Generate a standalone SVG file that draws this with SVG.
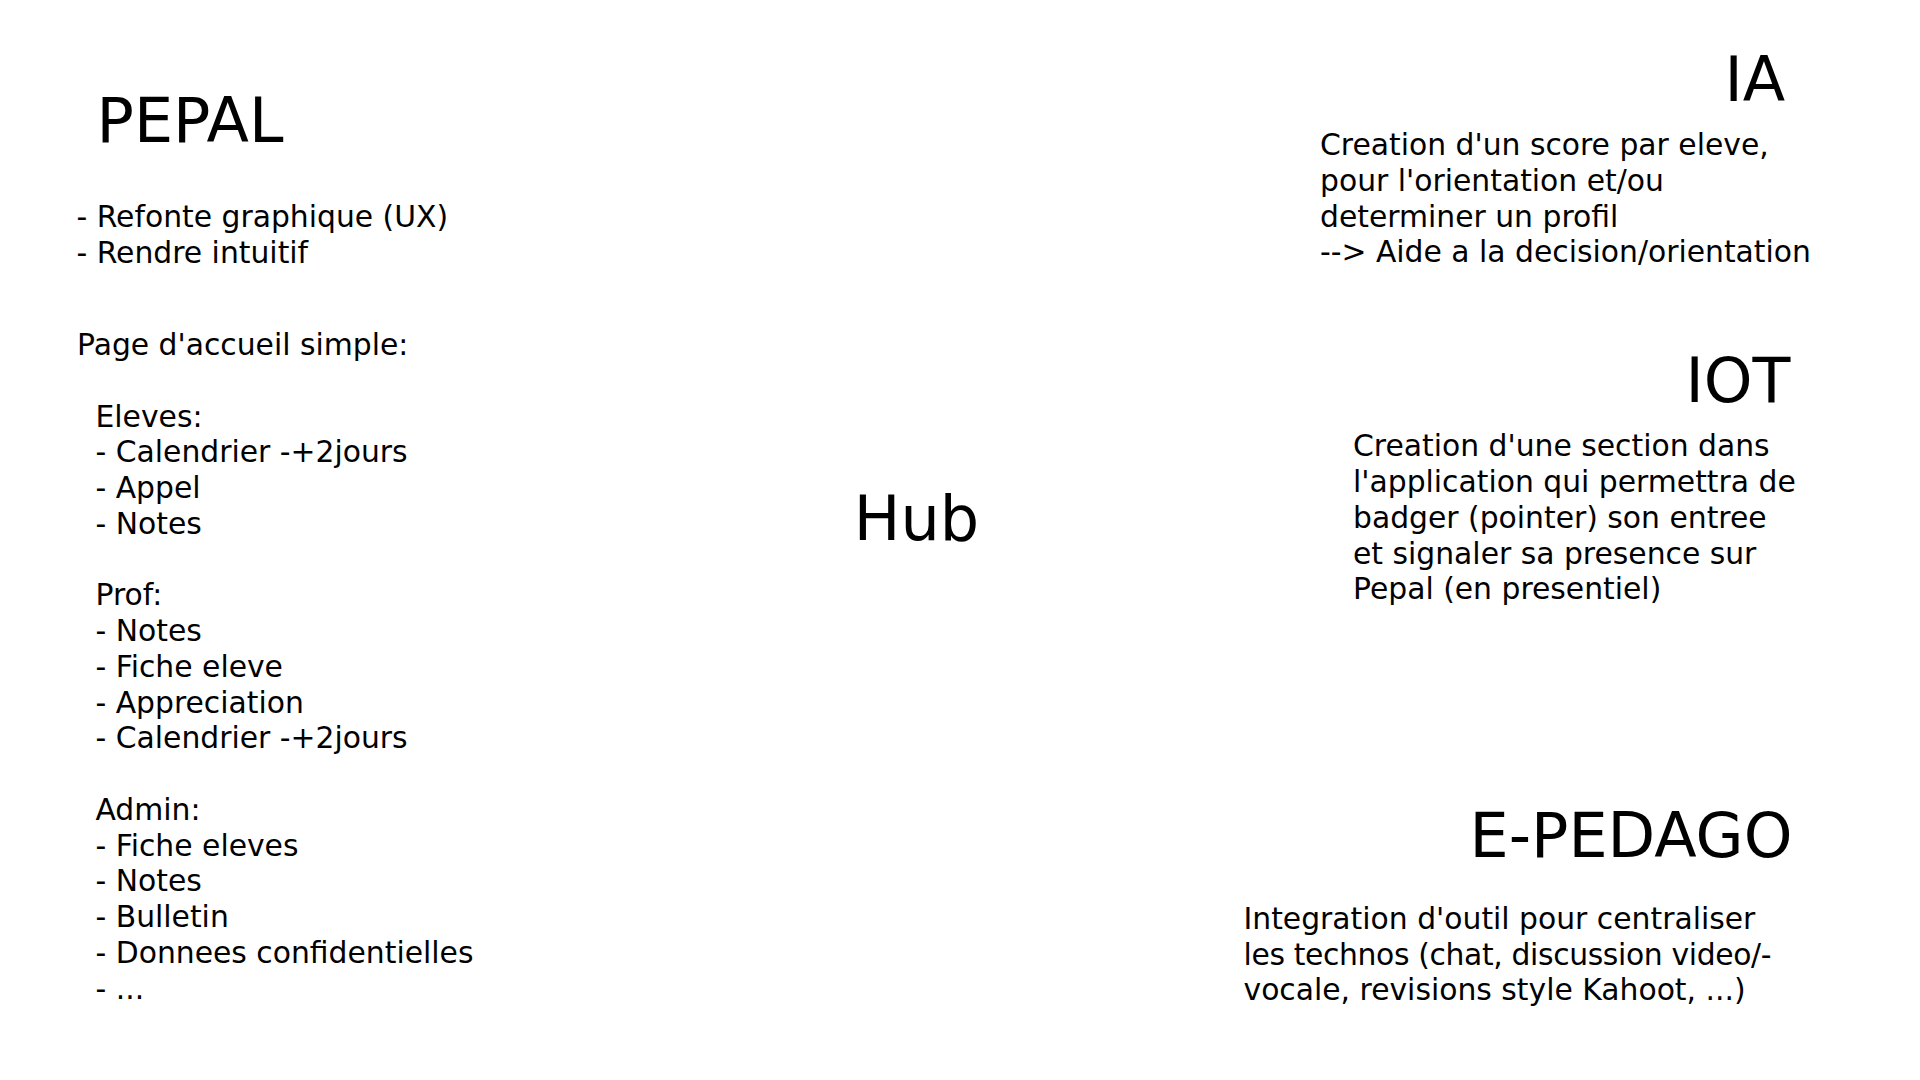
<svg xmlns="http://www.w3.org/2000/svg" width="1920" height="1080" viewBox="0 0 1920 1080">
  <style>
    text { font-family: "DejaVu Sans", "Noto Sans", sans-serif; fill: #000000; }
    .title { font-size: 62px; }
    .body { font-size: 29.8px; }
  </style>
  <rect x="0" y="0" width="1920" height="1080" fill="#ffffff"/>
  <g id="connectors"></g>
  <g id="node-pepal">
    <text class="title" x="96.5" y="141.7">PEPAL</text>
    <text class="body" x="76.5" y="226.7">- Refonte graphique (UX)</text>
    <text class="body" x="76.5" y="262.7">- Rendre intuitif</text>
    <text class="body" x="77" y="355">Page d'accueil simple:</text>
    <text class="body" x="95.5" y="426.5">Eleves:</text>
    <text class="body" x="95.5" y="462.25">- Calendrier -+2jours</text>
    <text class="body" x="95.5" y="498">- Appel</text>
    <text class="body" x="95.5" y="533.75">- Notes</text>
    <text class="body" x="95.5" y="605.25">Prof:</text>
    <text class="body" x="95.5" y="641">- Notes</text>
    <text class="body" x="95.5" y="676.75">- Fiche eleve</text>
    <text class="body" x="95.5" y="712.5">- Appreciation</text>
    <text class="body" x="95.5" y="748.25">- Calendrier -+2jours</text>
    <text class="body" x="95.5" y="819.75">Admin:</text>
    <text class="body" x="95.5" y="855.5">- Fiche eleves</text>
    <text class="body" x="95.5" y="891.25">- Notes</text>
    <text class="body" x="95.5" y="927">- Bulletin</text>
    <text class="body" x="95.5" y="962.75">- Donnees confidentielles</text>
    <text class="body" x="95.5" y="998.5">- ...</text>
  </g>
  <g id="node-hub">
    <text class="title" x="853.8" y="540">Hub</text>
  </g>
  <g id="node-ia">
    <text class="title" x="1724.5" y="101">IA</text>
    <text class="body" x="1320" y="155">Creation d'un score par eleve,</text>
    <text class="body" x="1320" y="191">pour l'orientation et/ou</text>
    <text class="body" x="1320" y="226.7">determiner un profil</text>
    <text class="body" x="1320" y="262">--&gt; Aide a la decision/orientation</text>
  </g>
  <g id="node-iot">
    <text class="title" x="1685.5" y="402">IOT</text>
    <text class="body" x="1353" y="456">Creation d'une section dans</text>
    <text class="body" x="1353" y="492">l'application qui permettra de</text>
    <text class="body" x="1353" y="528">badger (pointer) son entree</text>
    <text class="body" x="1353" y="563.5">et signaler sa presence sur</text>
    <text class="body" x="1353" y="599">Pepal (en presentiel)</text>
  </g>
  <g id="node-epedago">
    <text class="title" x="1469.5" y="857">E-PEDAGO</text>
    <text class="body" x="1243.5" y="928.5">Integration d'outil pour centraliser</text>
    <text class="body" x="1243.5" y="964.5" textLength="528" lengthAdjust="spacing">les technos (chat, discussion video/-</text>
    <text class="body" x="1243.5" y="999.5">vocale, revisions style Kahoot, ...)</text>
  </g>
</svg>
